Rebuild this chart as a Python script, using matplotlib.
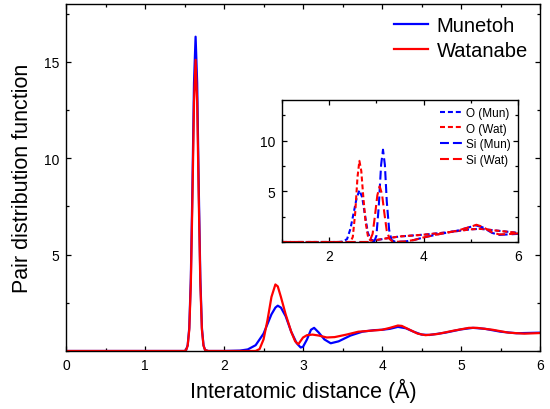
import matplotlib
matplotlib.use("Agg")
import matplotlib.pyplot as plt
from matplotlib.ticker import MultipleLocator

plt.rcParams['font.family'] = ['Liberation Sans', 'DejaVu Sans']

# Total pair distribution function, r in Angstrom
r_mun = [0.0, 1.50, 1.52, 1.54, 1.56, 1.58, 1.60, 1.62, 1.64, 1.66, 1.68, 1.70,
         1.72, 1.74, 1.76, 1.80, 2.0, 2.2, 2.3, 2.4, 2.5, 2.55, 2.6, 2.65, 2.68,
         2.72, 2.78, 2.85, 2.92, 2.97, 3.0, 3.05, 3.1, 3.14, 3.2, 3.27, 3.35,
         3.45, 3.6, 3.75, 3.9, 4.0, 4.1, 4.2, 4.3, 4.4, 4.5, 4.6, 4.8, 5.0,
         5.15, 5.3, 5.5, 5.7, 6.0]
g_mun = [0.0, 0.0, 0.05, 0.3, 1.2, 3.8, 8.5, 13.9, 16.3, 13.9, 8.5, 3.8,
         1.2, 0.3, 0.05, 0.0, 0.0, 0.02, 0.08, 0.3, 0.9, 1.4, 1.9, 2.25, 2.35,
         2.25, 1.8, 1.0, 0.4, 0.18, 0.22, 0.6, 1.1, 1.2, 0.95, 0.6, 0.4,
         0.5, 0.8, 1.0, 1.08, 1.1, 1.15, 1.25, 1.18, 1.0, 0.85, 0.83, 0.95, 1.12,
         1.2, 1.15, 1.0, 0.92, 0.95]

r_wat = [0.0, 1.50, 1.52, 1.54, 1.56, 1.58, 1.60, 1.62, 1.64, 1.66, 1.68, 1.70,
         1.72, 1.74, 1.76, 1.80, 2.0, 2.4, 2.45, 2.5, 2.55, 2.6, 2.65, 2.68,
         2.72, 2.78, 2.85, 2.9, 2.94, 3.0, 3.05, 3.12, 3.2, 3.3, 3.4, 3.55,
         3.7, 3.85, 4.0, 4.1, 4.2, 4.25, 4.35, 4.45, 4.55, 4.7, 4.9, 5.1, 5.2,
         5.4, 5.6, 5.8, 6.0]
g_wat = [0.0, 0.0, 0.05, 0.28, 1.1, 3.5, 7.9, 12.9, 15.1, 12.9, 7.9, 3.5,
         1.1, 0.28, 0.05, 0.0, 0.0, 0.0, 0.1, 0.6, 1.6, 2.8, 3.45, 3.35,
         2.8, 1.9, 1.0, 0.5, 0.35, 0.7, 0.82, 0.85, 0.8, 0.7, 0.72, 0.85,
         1.0, 1.05, 1.1, 1.2, 1.32, 1.3, 1.1, 0.9, 0.82, 0.88, 1.05, 1.2, 1.2,
         1.1, 0.95, 0.9, 0.93]

# Partial distribution functions (inset)
r_o_mun = [1.0, 2.2, 2.3, 2.38, 2.45, 2.52, 2.58, 2.64, 2.7, 2.76, 2.82, 2.88,
           2.95, 3.0, 3.2, 3.5, 4.0, 4.5, 5.0, 5.2, 5.5, 5.8, 6.0]
g_o_mun = [0.0, 0.0, 0.05, 0.3, 1.3, 2.9, 4.3, 5.1, 4.4, 2.6, 0.9, 0.25,
           0.12, 0.18, 0.35, 0.55, 0.72, 0.95, 1.25, 1.3, 1.15, 1.0, 0.9]

r_o_wat = [1.0, 2.45, 2.5, 2.55, 2.6, 2.64, 2.68, 2.72, 2.77, 2.82, 2.87, 2.92,
           3.0, 3.2, 3.5, 4.0, 4.5, 5.0, 5.2, 5.5, 5.8, 6.0]
g_o_wat = [0.0, 0.0, 0.5, 2.8, 6.4, 8.0, 7.0, 4.6, 2.0, 0.6, 0.15, 0.12,
           0.2, 0.35, 0.55, 0.72, 0.95, 1.25, 1.3, 1.15, 1.0, 0.9]

r_si_mun = [1.0, 2.95, 3.0, 3.05, 3.1, 3.14, 3.18, 3.22, 3.27, 3.32, 3.4, 3.6,
            3.8, 4.0, 4.3, 4.7, 5.0, 5.1, 5.25, 5.45, 5.6, 5.8, 6.0]
g_si_mun = [0.0, 0.0, 0.6, 3.5, 7.6, 9.1, 7.6, 4.0, 1.2, 0.2, 0.02, 0.05,
            0.2, 0.45, 0.75, 1.1, 1.5, 1.65, 1.45, 0.9, 0.7, 0.75, 0.8]

r_si_wat = [1.0, 2.85, 2.92, 2.97, 3.02, 3.07, 3.12, 3.17, 3.22, 3.28, 3.34, 3.4,
            3.6, 3.8, 4.0, 4.3, 4.7, 5.0, 5.12, 5.25, 5.45, 5.6, 5.8, 6.0]
g_si_wat = [0.0, 0.0, 0.8, 2.6, 4.6, 5.5, 4.7, 2.8, 1.1, 0.3, 0.05, 0.02,
            0.05, 0.2, 0.45, 0.75, 1.1, 1.5, 1.7, 1.5, 0.95, 0.75, 0.78, 0.85]

BLUE = '#0000ff'
RED = '#ff0000'

fig = plt.figure(figsize=(5.5, 4.1), dpi=100)
ax = fig.add_axes([0.12, 0.1415, 0.862, 0.8465])

ax.plot(r_mun, g_mun, color=BLUE, lw=1.6, label='Munetoh')
ax.plot(r_wat, g_wat, color=RED, lw=1.6, label='Watanabe')

ax.set_xlim(0, 6)
ax.set_ylim(0, 18)
ax.set_xticks([0, 1, 2, 3, 4, 5, 6])
ax.set_yticks([5, 10, 15])
ax.xaxis.set_minor_locator(MultipleLocator(0.5))
ax.yaxis.set_minor_locator(MultipleLocator(2.5))
ax.tick_params(which='both', direction='in', top=True, right=True,
               labelsize=10, width=0.9, pad=5)
ax.tick_params(which='major', length=3.3)
ax.tick_params(which='minor', length=2.0)
for s in ax.spines.values():
    s.set_linewidth(1.0)
ax.set_xlabel('Interatomic distance (Å)', fontsize=15.5, labelpad=4)
ax.set_ylabel('Pair distribution function', fontsize=15.5, labelpad=8)

ax.legend(loc='upper right', frameon=False, fontsize=14.5, handlelength=1.65,
          handletextpad=0.45, labelspacing=0.28, borderaxespad=0.2,
          bbox_to_anchor=(1.0, 1.0))

# Inset: partial contributions
ins = fig.add_axes([0.5127, 0.4073, 0.4291, 0.3464])
short = (0, (2.4, 1.4))
long_ = (0, (4.3, 1.9))
ins.plot(r_o_mun, g_o_mun, color=BLUE, lw=1.5, ls=short, label='O (Mun)')
ins.plot(r_o_wat, g_o_wat, color=RED, lw=1.5, ls=short, label='O (Wat)')
ins.plot(r_si_mun, g_si_mun, color=BLUE, lw=1.5, ls=long_, label='Si (Mun)')
ins.plot(r_si_wat, g_si_wat, color=RED, lw=1.5, ls=long_, label='Si (Wat)')
ins.set_xlim(1, 6)
ins.set_ylim(0, 14)
ins.set_xticks([2, 4, 6])
ins.set_yticks([5, 10])
ins.xaxis.set_minor_locator(MultipleLocator(1))
ins.yaxis.set_minor_locator(MultipleLocator(2.5))
ins.tick_params(which='both', direction='in', top=True, right=True,
                labelsize=10, width=0.9, pad=5)
ins.tick_params(which='major', length=3.3)
ins.tick_params(which='minor', length=2.0)
for s in ins.spines.values():
    s.set_linewidth(1.0)
ins.legend(loc='upper right', frameon=False, fontsize=8.5, handlelength=1.9,
           handletextpad=0.35, labelspacing=0.3, borderaxespad=0.2,
           bbox_to_anchor=(1.0, 1.0))

fig.savefig('out.png', dpi=100)
